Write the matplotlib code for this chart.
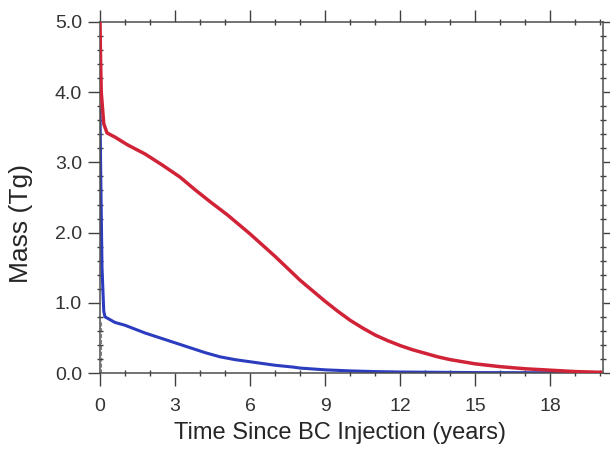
import matplotlib
matplotlib.use("Agg")
import matplotlib.pyplot as plt
from matplotlib.ticker import MultipleLocator, FormatStrFormatter

plt.rcParams['font.family'] = ['Liberation Sans', 'DejaVu Sans']

red_t = [0.0, 0.02, 0.05, 0.15, 0.28, 0.6, 1.1, 1.8, 2.5, 3.2, 3.8, 4.4, 5.1, 5.5, 6.0, 6.5, 7.0, 7.5, 8.0, 8.5, 9.0, 9.5, 10.0,
         10.5, 11.0, 11.5, 12.0, 12.5, 13.0, 13.5, 14.0, 14.5, 15.0, 16.0, 17.0, 18.0, 19.0, 20.0]
red_m = [5.0, 4.5, 4.0, 3.55, 3.42, 3.36, 3.25, 3.12, 2.96, 2.79, 2.61, 2.44, 2.25, 2.13, 1.98, 1.82, 1.66, 1.49, 1.32, 1.17, 1.02, 0.88, 0.75,
         0.64, 0.54, 0.46, 0.39, 0.33, 0.28, 0.23, 0.19, 0.16, 0.13, 0.09, 0.06, 0.04, 0.02, 0.01]
blue_t = [0.0, 0.03, 0.08, 0.15, 0.2, 0.6, 1.0, 1.8, 2.4, 3.0, 3.6, 4.2, 4.8, 5.4, 6.0, 6.6, 7.0, 7.7, 8.0, 9.0, 10.0, 11.0, 12.0, 15.0, 20.0]
blue_m = [3.75, 2.8, 1.5, 0.88, 0.8, 0.72, 0.68, 0.57, 0.5, 0.43, 0.36, 0.29, 0.23, 0.19, 0.16, 0.13, 0.11, 0.085, 0.07, 0.045, 0.03, 0.02, 0.014, 0.006, 0.002]
grey_t = [0.02, 0.02]
grey_m = [0.0, 0.75]

fig = plt.figure(figsize=(6.10, 4.51), dpi=100)
ax = fig.add_axes([100/610, 1-373/451, 503/610, 351/451])
ax.plot(grey_t, grey_m, color='0.5', lw=0.8, ls='--', zorder=1)
ax.plot(red_t, red_m, color='#d12337', lw=2.5, zorder=3)
ax.plot(blue_t, blue_m, color='#2b3cbf', lw=2.2, zorder=2)

ax.set_xlim(0, 20.1)
ax.set_ylim(0, 5.0)
ax.xaxis.set_major_locator(MultipleLocator(3))
ax.xaxis.set_minor_locator(MultipleLocator(1))
ax.yaxis.set_major_locator(MultipleLocator(1))
ax.yaxis.set_minor_locator(MultipleLocator(0.2))
ax.yaxis.set_major_formatter(FormatStrFormatter('%.1f'))
ax.tick_params(which='both', top=True, right=True, color='0.25', width=1)
ax.tick_params(which='major', direction='out', length=9)
ax.tick_params(which='minor', direction='inout', length=5)
ax.tick_params(axis='x', which='major', labelsize=14, pad=9)
ax.tick_params(axis='y', which='major', labelsize=14, pad=4)
for lab in ax.get_xticklabels() + ax.get_yticklabels():
    lab.set_color('0.2')
for s in ax.spines.values():
    s.set_linewidth(1.1)
    s.set_color('0.3')
ax.set_xlabel('Time Since BC Injection (years)', fontsize=17, color='0.15')
ax.set_ylabel('Mass (Tg)', fontsize=19, color='0.15')
ax.xaxis.set_label_coords(0.478, -0.14)
ax.yaxis.set_label_coords(-0.133, 0.425)
fig.savefig('out.png', dpi=100)
